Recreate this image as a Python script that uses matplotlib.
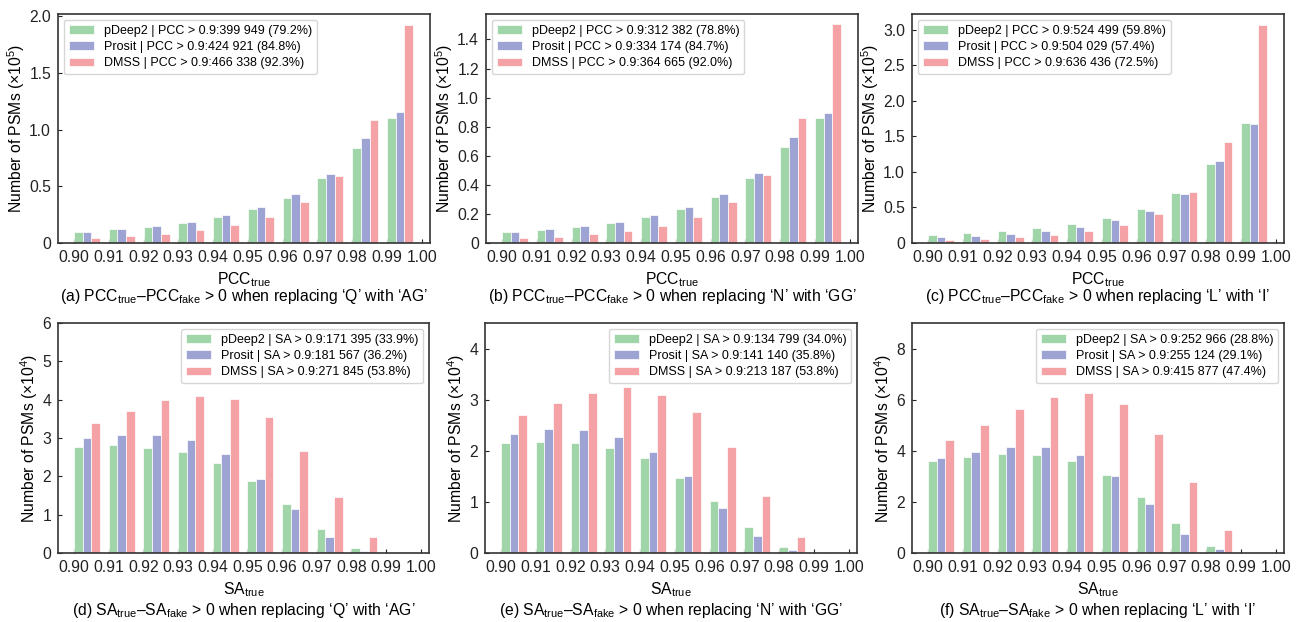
import matplotlib
matplotlib.use('Agg')
import matplotlib.pyplot as plt
import numpy as np
from matplotlib.ticker import FuncFormatter, MultipleLocator

plt.rcParams['font.family'] = ['Liberation Sans', 'DejaVu Sans']
plt.rcParams['mathtext.fontset'] = 'custom'
plt.rcParams['mathtext.rm'] = 'Liberation Sans'
plt.rcParams['mathtext.it'] = 'Liberation Sans:italic'
plt.rcParams['mathtext.bf'] = 'Liberation Sans:bold'

bins = [0.90, 0.91, 0.92, 0.93, 0.94, 0.95, 0.96, 0.97, 0.98, 0.99]
xtick_vals = [0.90, 0.91, 0.92, 0.93, 0.94, 0.95, 0.96, 0.97, 0.98, 0.99, 1.00]
models = ['pDeep2', 'Prosit', 'DMSS']
colors = ['#a0d5aa', '#9da3d3', '#f5a2a7']

# ---- PCC panels (x1e5) ----
pcc_a_pdeep = [0.097, 0.12, 0.14, 0.176, 0.229, 0.30, 0.40, 0.57, 0.84, 1.10]
pcc_a_prosit = [0.097, 0.12, 0.147, 0.185, 0.243, 0.314, 0.428, 0.607, 0.93, 1.158]
pcc_a_dmss = [0.044, 0.059, 0.079, 0.111, 0.155, 0.232, 0.36, 0.59, 1.088, 1.927]

pcc_b_pdeep = [0.073, 0.092, 0.108, 0.137, 0.178, 0.231, 0.316, 0.446, 0.659, 0.863]
pcc_b_prosit = [0.076, 0.094, 0.117, 0.146, 0.192, 0.247, 0.339, 0.483, 0.732, 0.897]
pcc_b_dmss = [0.034, 0.043, 0.062, 0.085, 0.119, 0.176, 0.279, 0.469, 0.860, 1.503]

pcc_c_pdeep = [0.107, 0.136, 0.164, 0.206, 0.266, 0.346, 0.477, 0.706, 1.107, 1.692]
pcc_c_prosit = [0.079, 0.103, 0.131, 0.173, 0.229, 0.318, 0.449, 0.682, 1.159, 1.678]
pcc_c_dmss = [0.042, 0.061, 0.084, 0.112, 0.168, 0.252, 0.411, 0.715, 1.425, 3.07]

# ---- SA panels (x1e4) ----
sa_d_pdeep = [2.77, 2.81, 2.75, 2.63, 2.35, 1.88, 1.27, 0.62, 0.14, 0.005]
sa_d_prosit = [3.00, 3.08, 3.08, 2.94, 2.57, 1.94, 1.14, 0.43, 0.05, 0.002]
sa_d_dmss = [3.40, 3.71, 4.00, 4.10, 4.02, 3.55, 2.65, 1.47, 0.41, 0.02]

sa_e_pdeep = [2.16, 2.18, 2.16, 2.06, 1.85, 1.46, 1.02, 0.50, 0.12, 0.004]
sa_e_prosit = [2.32, 2.43, 2.41, 2.27, 1.97, 1.50, 0.89, 0.34, 0.06, 0.002]
sa_e_dmss = [2.70, 2.94, 3.14, 3.24, 3.10, 2.75, 2.07, 1.11, 0.32, 0.02]

sa_f_pdeep = [3.59, 3.75, 3.87, 3.82, 3.59, 3.05, 2.21, 1.19, 0.29, 0.01]
sa_f_prosit = [3.70, 3.97, 4.14, 4.14, 3.82, 3.02, 1.90, 0.76, 0.16, 0.005]
sa_f_dmss = [4.41, 5.02, 5.65, 6.10, 6.27, 5.84, 4.67, 2.77, 0.90, 0.05]

legend_a = ['pDeep2 | PCC > 0.9:399 949 (79.2%)', 'Prosit | PCC > 0.9:424 921 (84.8%)', 'DMSS | PCC > 0.9:466 338 (92.3%)']
legend_b = ['pDeep2 | PCC > 0.9:312 382 (78.8%)', 'Prosit | PCC > 0.9:334 174 (84.7%)', 'DMSS | PCC > 0.9:364 665 (92.0%)']
legend_c = ['pDeep2 | PCC > 0.9:524 499 (59.8%)', 'Prosit | PCC > 0.9:504 029 (57.4%)', 'DMSS | PCC > 0.9:636 436 (72.5%)']
legend_d = ['pDeep2 | SA > 0.9:171 395 (33.9%)', 'Prosit | SA > 0.9:181 567 (36.2%)', 'DMSS | SA > 0.9:271 845 (53.8%)']
legend_e = ['pDeep2 | SA > 0.9:134 799 (34.0%)', 'Prosit | SA > 0.9:141 140 (35.8%)', 'DMSS | SA > 0.9:213 187 (53.8%)']
legend_f = ['pDeep2 | SA > 0.9:252 966 (28.8%)', 'Prosit | SA > 0.9:255 124 (29.1%)', 'DMSS | SA > 0.9:415 877 (47.4%)']

captions = [
    r"(a) PCC$_{\mathrm{true}}$–PCC$_{\mathrm{fake}}$ > 0 when replacing ‘Q’ with ‘AG’",
    r"(b) PCC$_{\mathrm{true}}$–PCC$_{\mathrm{fake}}$ > 0 when replacing ‘N’ with ‘GG’",
    r"(c) PCC$_{\mathrm{true}}$–PCC$_{\mathrm{fake}}$ > 0 when replacing ‘L’ with ‘I’",
    r"(d) SA$_{\mathrm{true}}$–SA$_{\mathrm{fake}}$ > 0 when replacing ‘Q’ with ‘AG’",
    r"(e) SA$_{\mathrm{true}}$–SA$_{\mathrm{fake}}$ > 0 when replacing ‘N’ with ‘GG’",
    r"(f) SA$_{\mathrm{true}}$–SA$_{\mathrm{fake}}$ > 0 when replacing ‘L’ with ‘I’",
]

panels = [
    dict(data=[pcc_a_pdeep, pcc_a_prosit, pcc_a_dmss], leg=legend_a, ylim=2.02, step=0.5, exp=5, xl='PCC', loc='upper left'),
    dict(data=[pcc_b_pdeep, pcc_b_prosit, pcc_b_dmss], leg=legend_b, ylim=1.575, step=0.2, exp=5, xl='PCC', loc='upper left'),
    dict(data=[pcc_c_pdeep, pcc_c_prosit, pcc_c_dmss], leg=legend_c, ylim=3.22, step=0.5, exp=5, xl='PCC', loc='upper left'),
    dict(data=[sa_d_pdeep, sa_d_prosit, sa_d_dmss], leg=legend_d, ylim=6.0, step=1, exp=4, xl='SA', loc='upper right'),
    dict(data=[sa_e_pdeep, sa_e_prosit, sa_e_dmss], leg=legend_e, ylim=4.5, step=1, exp=4, xl='SA', loc='upper right'),
    dict(data=[sa_f_pdeep, sa_f_prosit, sa_f_dmss], leg=legend_f, ylim=9.0, step=2, exp=4, xl='SA', loc='upper right'),
]

W, H = 1303, 622
fig = plt.figure(figsize=(W / 100, H / 100), dpi=100)

lefts = [58, 486, 912, 58, 485, 912]
rights = [430, 858, 1284, 429, 857, 1284]
tops = [14, 14, 14, 323, 323, 323]
bottoms = [243, 243, 243, 553, 553, 553]

bw = 0.0025

for i, p in enumerate(panels):
    l, r, t, b = lefts[i], rights[i], tops[i], bottoms[i]
    ax = fig.add_axes([l / W, 1 - b / H, (r - l) / W, (b - t) / H])
    x = np.array(bins)
    for j in range(3):
        ax.bar(x + j * bw, p['data'][j], width=bw, align='edge', color=colors[j],
               edgecolor='white', linewidth=0.5, label=p['leg'][j], zorder=2)
    ax.set_xlim(0.8954, 1.0024)
    ax.set_ylim(0, p['ylim'])
    ax.set_xticks(xtick_vals)
    ax.set_xticklabels(['%.2f' % v for v in xtick_vals])
    ax.yaxis.set_major_locator(MultipleLocator(p['step']))
    if p['exp'] == 5:
        ax.yaxis.set_major_formatter(FuncFormatter(lambda v, pos: '0' if abs(v) < 1e-9 else '%.1f' % v))
    else:
        ax.yaxis.set_major_formatter(FuncFormatter(lambda v, pos: '%d' % round(v)))
    ax.tick_params(direction='in', length=3, width=0.8, labelsize=11.3, pad=5, colors='#222222')
    for s in ax.spines.values():
        s.set_linewidth(1.2)
        s.set_color('#333333')
    ax.set_ylabel(r'Number of PSMs (×10$^{%d}$)' % p['exp'], fontsize=11.3, labelpad=1.5)
    ax.set_xlabel(p['xl'] + r'$_{\mathrm{true}}$', fontsize=11.3, labelpad=4)
    leg = ax.legend(loc=p['loc'], fontsize=9, frameon=True, borderaxespad=0.45,
                    handlelength=2.0, handleheight=0.7, labelspacing=0.35)
    leg.get_frame().set_edgecolor('#cccccc')
    cx = (l + r) / 2 / W
    cy = (297 if i < 3 else 610)
    fig.text(cx, 1 - cy / H, captions[i], ha='center', va='center', fontsize=11.3)

fig.savefig('out.png', dpi=100)
